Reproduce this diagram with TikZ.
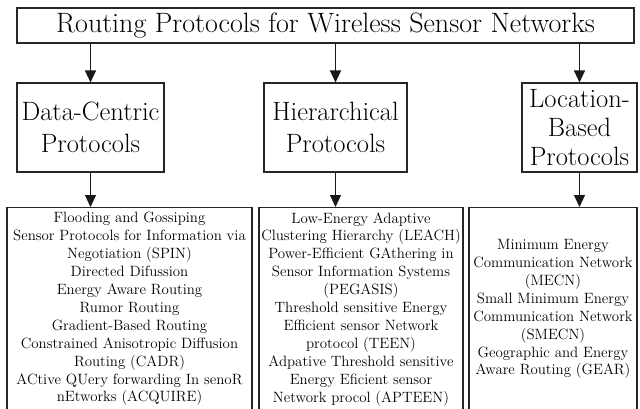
\documentclass[tikz,border=0pt]{standalone}
\usepackage{fontspec}
\usetikzlibrary{arrows.meta}
\begin{document}
\begin{tikzpicture}[x=1pt,y=-1pt,
  box/.style={draw=black!85, line width=1.1pt, inner sep=0pt, align=center},
  head/.style={box, font=\fontsize{28}{32}\selectfont},
  cat/.style={box, minimum height=89pt, font=\fontsize{26.5}{32}\selectfont},
  list/.style={box, anchor=north, minimum height=203pt, font=\fontsize{14.9}{17.9}\selectfont},
  link/.style={draw=black!90, line width=1.1pt, -{Triangle[width=11pt,length=12pt]}}]
\path[use as bounding box, clip] (0,0) rectangle (640,408);

% title
\node[head, minimum width=617pt, minimum height=35pt] (root) at (325.5,25.5)
  {Routing Protocols for Wireless Sensor Networks};

% three families
\node[cat, minimum width=147pt] (dc) at (90.5,127.5) {Data-Centric\\Protocols};
\node[cat, minimum width=143pt] (hp) at (335.5,127.5) {Hierarchical\\Protocols};
\node[cat, minimum width=115pt, font=\fontsize{26.5}{29}\selectfont] (lb) at (579.5,127.5)
  {Location-\\Based\\Protocols};

% protocol lists
\node[list, minimum width=245pt] (dcl) at (129.5,207) {Flooding and Gossiping\\
  Sensor Protocols for Information via\\
  Negotiation (SPIN)\\
  Directed Difussion\\
  Energy Aware Routing\\
  Rumor Routing\\
  Gradient-Based Routing\\
  Constrained Anisotropic Diffusion\\
  Routing (CADR)\\
  ACtive QUery forwarding In senoR\\
  nEtworks (ACQUIRE)};
\node[list, minimum width=204pt] (hpl) at (361,207) {Low-Energy Adaptive\\
  Clustering Hierarchy (LEACH)\\
  Power-Efficient GAthering in\\
  Sensor Information Systems\\
  (PEGASIS)\\
  Threshold sensitive Energy\\
  Efficient sensor Network\\
  protocol (TEEN)\\
  Adpative Threshold sensitive\\
  Energy Eficient sensor\\
  Network procol (APTEEN)};
\node[list, minimum width=168pt] (lbl) at (553,207) {Minimum Energy\\
  Communication Network\\
  (MECN)\\
  Small Minimum Energy\\
  Communication Network\\
  (SMECN)\\
  Geographic and Energy\\
  Aware Routing (GEAR)};

% connectors
\draw[link] (root.south -| dc.north) -- (dc.north);
\draw[link] (root.south -| hp.north) -- (hp.north);
\draw[link] (root.south -| lb.north) -- (lb.north);
\draw[link] (dc.south) -- (dc.south |- dcl.north);
\draw[link] (hp.south) -- (hp.south |- hpl.north);
\draw[link] (lb.south) -- (lb.south |- lbl.north);
\end{tikzpicture}
\end{document}
